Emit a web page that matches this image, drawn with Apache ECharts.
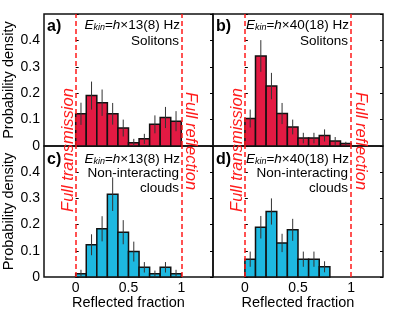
<!DOCTYPE html>
<html>
<head>
<meta charset="utf-8">
<script src="https://cdn.jsdelivr.net/npm/echarts@6/dist/echarts.min.js"></script>
<style>html,body{margin:0;padding:0;background:#fff}#c{width:407px;height:312px}</style>
</head>
<body>
<div id="c"></div>
<script>
// Bin edges (reflected fraction)
const binEdges = [0, 0.1, 0.2, 0.3, 0.4, 0.5, 0.6, 0.7, 0.8, 0.9, 1.0];
// Panel a: Solitons, E = h x 13(8) Hz
const aVals = [0.122, 0.191, 0.164, 0.122, 0.068, 0.012, 0.027, 0.082, 0.108, 0.094];
const aErr  = [0.042, 0.053, 0.050, 0.041, 0.032, 0.015, 0.019, 0.034, 0.040, 0.038];
// Panel b: Solitons, E = h x 40(18) Hz
const bVals = [0.104, 0.341, 0.227, 0.123, 0.072, 0.030, 0.030, 0.040, 0.019, 0.009];
const bErr  = [0.034, 0.060, 0.050, 0.040, 0.028, 0.020, 0.020, 0.023, 0.015, 0.007];
// Panel c: Non-interacting clouds, E = h x 13(8) Hz
const cVals = [0.0125, 0.123, 0.184, 0.316, 0.171, 0.097, 0.037, 0.0125, 0.037, 0.0125];
const cErr  = [0.015, 0.040, 0.048, 0.064, 0.046, 0.038, 0.020, 0.012, 0.020, 0.015];
// Panel d: Non-interacting clouds, E = h x 40(18) Hz
const dVals = [0.068, 0.190, 0.250, 0.130, 0.180, 0.068, 0.068, 0.039, 0, 0];
const dErr  = [0.029, 0.043, 0.050, 0.035, 0.042, 0.029, 0.029, 0.021, 0, 0];

const yTicks = [0, 0.1, 0.2, 0.3, 0.4];
const xTicks = [0, 0.5, 1];
const panelLabels = ['a)', 'b)', 'c)', 'd)'];
const energies = ['13(8)', '40(18)', '13(8)', '40(18)'];
const kindLines = [['Solitons'], ['Solitons'], ['Non-interacting', 'clouds'], ['Non-interacting', 'clouds']];

const RED = '#e31a43', BLUE = '#1db8e0';
const FONT = 'Liberation Sans, Arial, sans-serif';

const grids = [
  {left: 44, top: 14, width: 169, height: 132},
  {left: 213, top: 14, width: 170, height: 132},
  {left: 44, top: 146, width: 169, height: 131},
  {left: 213, top: 146, width: 170, height: 131}
];
const panels = [
  {vals: aVals, err: aErr, color: RED},
  {vals: bVals, err: bErr, color: RED},
  {vals: cVals, err: cErr, color: BLUE},
  {vals: dVals, err: dErr, color: BLUE}
];

const chart = echarts.init(document.getElementById('c'), null, {renderer: 'canvas'});

const xAxes = [], yAxes = [], series = [];
grids.forEach((g, i) => {
  const bottom = i >= 2;
  const left = i % 2 === 0;
  xAxes.push({
    type: 'value', gridIndex: i, min: -0.3, max: 1.3,
    axisLine: {show: false}, splitLine: {show: false},
    axisTick: {show: false},
    axisLabel: {show: bottom, customValues: xTicks, fontSize: 14, color: '#000', fontFamily: FONT, margin: 4,
      formatter: v => String(v)},
    name: bottom ? 'Reflected fraction' : '', nameLocation: 'middle', nameGap: 17,
    nameTextStyle: {fontSize: 14.5, color: '#000', fontFamily: FONT}
  });
  yAxes.push({
    type: 'value', gridIndex: i, min: 0, max: 0.5, interval: 0.1,
    axisLine: {show: false}, splitLine: {show: false},
    axisTick: {show: true, inside: true, length: 3, lineStyle: {color: '#000', width: 1}},
    axisLabel: {show: left, customValues: yTicks, fontSize: 14, color: '#000', fontFamily: FONT, margin: 4,
      formatter: v => String(v)},
    name: left ? 'Probability density' : '', nameLocation: 'middle', nameGap: 24,
    nameTextStyle: {fontSize: 14.5, color: '#000', fontFamily: FONT}
  });
  yAxes.push({
    type: 'value', gridIndex: i, min: 0, max: 0.5, interval: 0.1, position: 'right',
    axisLine: {show: false}, splitLine: {show: false},
    axisTick: {show: true, inside: true, length: 3, lineStyle: {color: '#000', width: 1}},
    axisLabel: {show: false}
  });
  const p = panels[i];
  const data = [];
  p.vals.forEach((v, k) => { if (v > 0) data.push([binEdges[k], binEdges[k + 1], v, p.err[k]]); });
  series.push({
    type: 'custom', xAxisIndex: i, yAxisIndex: 2 * i, data: data,
    encode: {x: [0, 1], y: 2},
    renderItem: (params, api) => {
      const x0 = api.value(0), x1 = api.value(1), v = api.value(2), e = api.value(3);
      const p0 = api.coord([x0, v]), p1 = api.coord([x1, 0]);
      const t = api.coord([(x0 + x1) / 2, v + e]), b = api.coord([(x0 + x1) / 2, Math.max(0, v - e)]);
      return {type: 'group', children: [
        {type: 'rect', shape: {x: p0[0], y: p0[1], width: p1[0] - p0[0], height: p1[1] - p0[1]},
          style: {fill: p.color, stroke: '#111', lineWidth: 1.5}},
        {type: 'line', shape: {x1: t[0], y1: t[1], x2: b[0], y2: b[1]},
          style: {stroke: '#333', lineWidth: 1}}
      ]};
    },
    markLine: {
      silent: true, symbol: 'none', label: {show: false},
      lineStyle: {color: '#ff1a1a', type: [5, 3], width: 1.5},
      data: [{xAxis: 0}, {xAxis: 1}]
    },
    z: 2
  });
});

chart.setOption({
  animation: false,
  grid: grids.map(g => Object.assign({show: true, borderColor: '#111', borderWidth: 1.5, backgroundColor: 'transparent'}, g)),
  xAxis: xAxes,
  yAxis: yAxes,
  series: series
});

// Annotations
const graphics = [];
const rich = {
  i: {fontStyle: 'italic', fontSize: 13.5, fontFamily: FONT, color: '#000', lineHeight: 16, verticalAlign: 'bottom'},
  s: {fontStyle: 'italic', fontSize: 9, fontFamily: FONT, color: '#000', lineHeight: 13, verticalAlign: 'bottom'},
  n: {fontSize: 13.5, fontFamily: FONT, color: '#000', lineHeight: 16, verticalAlign: 'bottom'}
};
grids.forEach((g, i) => {
  const top = i < 2;
  graphics.push({type: 'text', x: g.left + 3, y: g.top + (top ? 13 : 14),
    style: {text: panelLabels[i], font: 'bold 16px ' + FONT, fill: '#000', align: 'left', verticalAlign: 'middle'}, z: 10});
  graphics.push({type: 'text', x: g.left + 136, y: g.top + (top ? 10 : 12),
    style: {text: '{i|E}{s|kin}{n|=}{i|h}{n|×' + energies[i] + ' Hz}', rich: rich, align: 'right', verticalAlign: 'middle'}, z: 10});
  kindLines[i].forEach((ln, k) => {
    graphics.push({type: 'text', x: g.left + 135, y: g.top + (top ? 27 : 27 + 15 * k),
      style: {text: ln, font: '13.5px ' + FONT, fill: '#000', align: 'right', verticalAlign: 'middle'}, z: 10});
  });
});
[0, 1].forEach(col => {
  const pt = chart.convertToPixel({xAxisIndex: col, yAxisIndex: 2 * col}, [-0.07, 0]);
  graphics.push({type: 'text', x: pt[0], y: pt[1] + 4, rotation: Math.PI / 2,
    style: {text: 'Full transmission', font: 'italic 16.5px ' + FONT, fill: '#ff1a1a', align: 'center', verticalAlign: 'middle'}, z: 10});
  const pr = chart.convertToPixel({xAxisIndex: col, yAxisIndex: 2 * col}, [1.09, 0]);
  graphics.push({type: 'text', x: pr[0], y: pr[1] - 5, rotation: -Math.PI / 2,
    style: {text: 'Full reflection', font: 'italic 16.5px ' + FONT, fill: '#ff1a1a', align: 'center', verticalAlign: 'middle'}, z: 10});
});
chart.setOption({graphic: graphics});
</script>
</body>
</html>
